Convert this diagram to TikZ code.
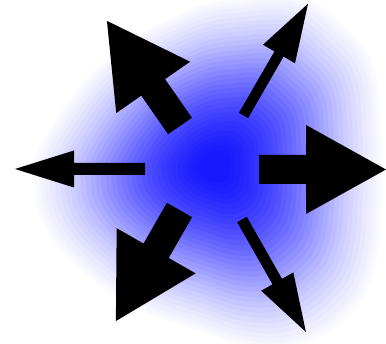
\documentclass[tikz,border=0pt]{standalone}
\usepackage{tikz}
\tikzset{
  blobfill/.style={fill=blue},
  arrowfill/.style={fill=black}
}
\newcommand\radarrow[7]{%
  \begin{scope}[shift={(#1,#2)}, rotate=#3]
    \fill[arrowfill] (0,-#5/2) -- ({#4-#6},-#5/2) -- ({#4-#6},-#7/2) -- (#4,0)
      -- ({#4-#6},#7/2) -- ({#4-#6},#5/2) -- (0,#5/2) -- cycle;
  \end{scope}}
\begin{document}
\begin{tikzpicture}[x=1pt,y=1pt]
\useasboundingbox (0,0) rectangle (386,344);
\begin{scope}[shift={(215,178)}]
  \foreach \s in {1.06,1.04,1.02,1.00,0.97,...,0.09} {
    \pgfmathsetmacro\op{\s>1 ? 0.015 : 0.02+0.11*(1-\s)}
    \fill[blobfill, fill opacity=\op, scale=\s] plot[smooth cycle, tension=0.7] coordinates {
      (-165,19) (-105,99) (-28,146) (35,159) (85,158) (121,133) (148,99)
      (156,46) (157,-39) (148,-106) (121,-146) (81,-169) (35,-171)
      (-15,-156) (-75,-134) (-125,-99) (-160,-59) (-170,-19)};
  }
\end{scope}
\radarrow{180}{218}{124.8}{128}{29}{81}{90}
\radarrow{243.5}{228.5}{60}{129}{10.5}{58}{37}
\radarrow{145}{175}{180}{130}{12}{59}{37}
\radarrow{259}{174.5}{0}{127}{29}{80}{89}
\radarrow{179.5}{134}{240.2}{128}{29}{81}{91}
\radarrow{242}{124.5}{-60.4}{129.4}{11}{58}{37}
\end{tikzpicture}
\end{document}
